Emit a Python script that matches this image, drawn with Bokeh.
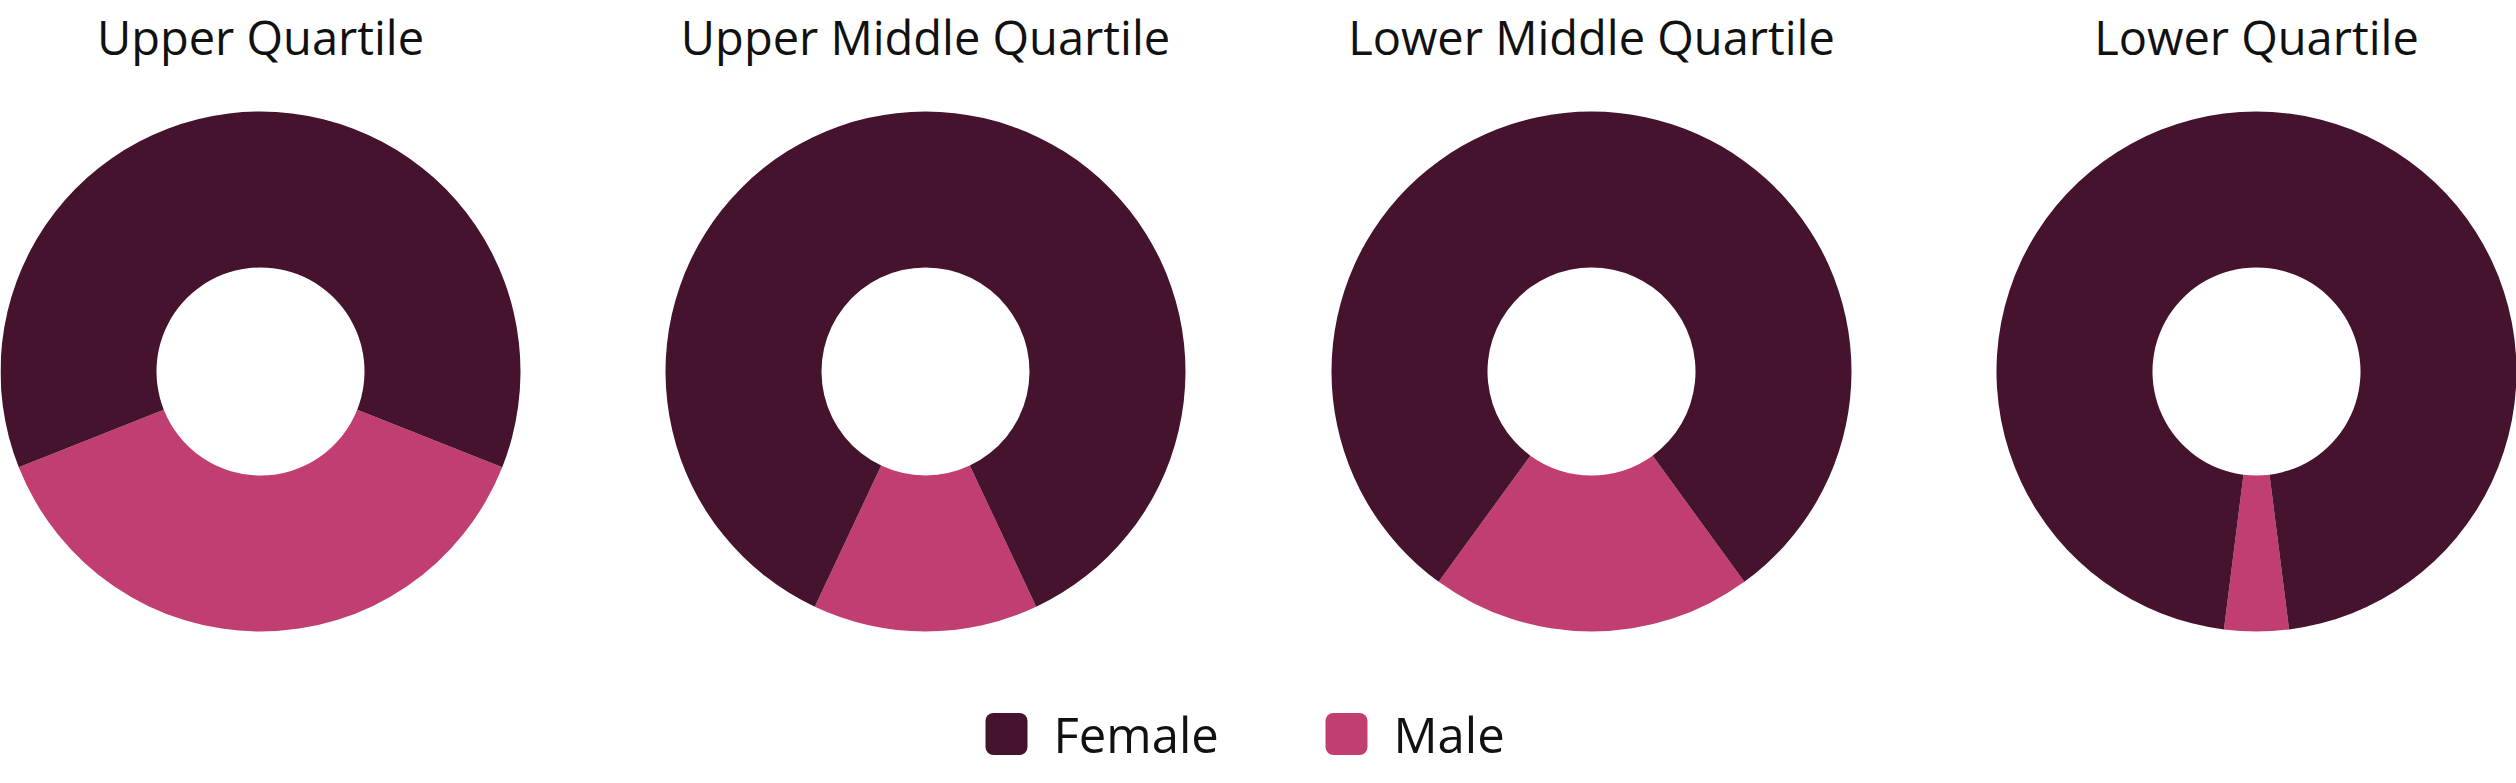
from bokeh.plotting import figure
from bokeh.models import Range1d, ColumnDataSource
from bokeh.core.properties import value
from bokeh.embed import file_html
from bokeh.resources import INLINE
import math

# ---- data ----
quartiles = ["Upper Quartile", "Upper Middle Quartile", "Lower Middle Quartile", "Lower Quartile"]
female = [62, 86, 80, 96]
male = [38, 14, 20, 4]
series = ["Female", "Male"]
colors = ["#46132E", "#C13E72"]

# ---- layout (pixels) ----
W, H = 2516, 783
cx = [260, 925, 1591, 2256]
cy = H - 371
R_OUT, R_IN = 260, 104
FONT = "Open Sans"

p = figure(width=W, height=H, x_range=Range1d(0, W), y_range=Range1d(0, H),
           output_backend="svg", toolbar_location=None,
           x_axis_location=None, y_axis_location=None, min_border=0)
p.grid.visible = False
p.outline_line_color = None
p.background_fill_color = "white"

xs, ys, starts, ends, cols = [], [], [], [], []
for i in range(len(quartiles)):
    m_span = male[i] / (male[i] + female[i]) * 2 * math.pi
    bottom = -math.pi / 2
    # male slice centered at bottom
    xs.append(cx[i]); ys.append(cy)
    starts.append(bottom - m_span / 2); ends.append(bottom + m_span / 2); cols.append(colors[1])
    # female slice: rest
    xs.append(cx[i]); ys.append(cy)
    starts.append(bottom + m_span / 2); ends.append(bottom - m_span / 2 + 2 * math.pi); cols.append(colors[0])

src = ColumnDataSource(dict(x=xs, y=ys, start=starts, end=ends, color=cols))
p.annular_wedge(x="x", y="y", inner_radius=R_IN, outer_radius=R_OUT,
                start_angle="start", end_angle="end", fill_color="color",
                line_color=None, source=src)

# titles
p.text(x=cx, y=[H - 36] * 4, text=quartiles, text_align="center",
       text_baseline="alphabetic", text_font=value(FONT), text_font_size="47px",
       text_color="#111111")

# legend
leg_x = [1006, 1346]
leg_y = H - 733.5
p.rect(x=leg_x, y=[leg_y] * 2, width=42, height=42, fill_color=colors,
       line_color=None, border_radius=8)
p.text(x=[x + 47 for x in leg_x], y=[leg_y] * 2, text=series, text_align="left",
       text_baseline="middle", text_font=value(FONT), text_font_size="49px",
       text_color="#111111")

open("out.html", "w").write(file_html(p, INLINE))
